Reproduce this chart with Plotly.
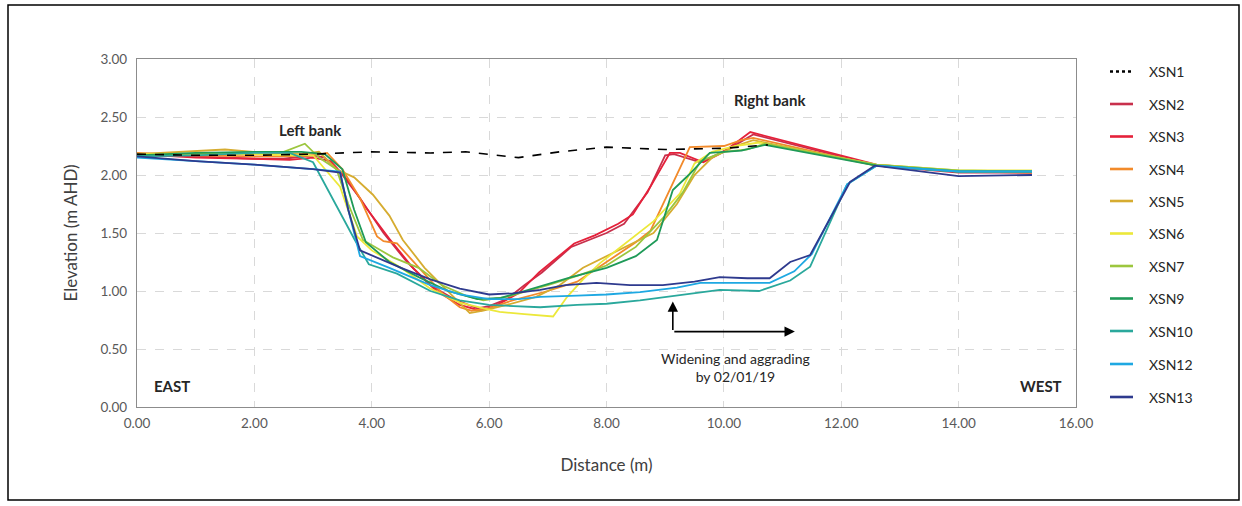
import plotly.graph_objects as go

# Cross-section survey profiles: distance across channel (m) vs elevation (m AHD)
names = ["XSN1", "XSN2", "XSN3", "XSN4", "XSN5", "XSN6", "XSN7", "XSN9", "XSN10", "XSN12", "XSN13"]
colors = ["#000000", "#c8304c", "#e5213a", "#f28a2a", "#d6ac30", "#ece83a", "#9cc63e",
          "#1e9a58", "#2aa89c", "#1ea8e2", "#2e3a8e"]

xsn1_x = [0, 1, 2, 3, 4, 5, 5.6, 6.5, 7.2, 8.0, 9.0, 10.0, 10.75]
xsn1_y = [2.18, 2.17, 2.17, 2.18, 2.20, 2.19, 2.20, 2.15, 2.20, 2.24, 2.22, 2.23, 2.26]

xsn2_x = [0, 1, 2, 2.5, 3.0, 3.2, 3.5, 3.8, 4.2, 4.6, 5.0, 5.4, 5.8, 6.0, 6.3, 6.6, 6.9,
          7.4, 8.0, 8.3, 8.7, 9.0, 9.15, 9.6, 9.9, 10.2, 10.5, 12.6, 14.0, 15.25]
xsn2_y = [2.17, 2.16, 2.14, 2.14, 2.17, 2.15, 2.00, 1.80, 1.50, 1.25, 1.05, 0.93, 0.85, 0.87,
          0.93, 1.05, 1.16, 1.38, 1.50, 1.58, 1.85, 2.17, 2.18, 2.11, 2.18, 2.26, 2.35, 2.08,
          2.02, 2.02]

xsn3_x = [0, 1, 2, 2.6, 3.0, 3.3, 3.6, 3.9, 4.3, 4.7, 5.1, 5.5, 5.85, 6.1, 6.5, 6.85,
          7.45, 7.8, 8.2, 8.45, 8.75, 9.08, 9.25, 9.65, 10.0, 10.45, 12.6, 14.0, 15.25]
xsn3_y = [2.18, 2.15, 2.14, 2.13, 2.15, 2.12, 1.95, 1.72, 1.45, 1.20, 1.00, 0.88, 0.83, 0.87,
          0.98, 1.16, 1.41, 1.48, 1.58, 1.66, 1.90, 2.19, 2.19, 2.11, 2.20, 2.37, 2.09,
          2.03, 2.02]

xsn4_x = [0, 1, 2, 2.5, 3.0, 3.24, 3.5, 3.8, 4.09, 4.2, 4.43, 4.8, 5.2, 5.5, 5.7, 6.0,
          6.4, 7.0, 7.5, 8.0, 8.5, 8.75, 9.1, 9.42, 10.0, 10.3, 10.5, 12.6, 14.0, 15.25]
xsn4_y = [2.19, 2.17, 2.16, 2.16, 2.17, 2.19, 2.05, 1.80, 1.47, 1.43, 1.41, 1.20, 0.98,
          0.86, 0.83, 0.85, 0.92, 1.00, 1.08, 1.25, 1.42, 1.52, 1.90, 2.24, 2.25, 2.30,
          2.32, 2.08, 2.03, 2.02]

xsn5_x = [0, 0.8, 1.5, 2.2, 2.8, 3.1, 3.4, 3.7, 4.02, 4.3, 4.53, 4.9, 5.2, 5.5, 5.67, 5.9,
          6.3, 6.8, 7.2, 7.6, 8.0, 8.4, 8.8, 9.2, 9.5, 9.8, 10.2, 10.5, 12.6, 14.0, 15.25]
xsn5_y = [2.18, 2.20, 2.22, 2.19, 2.18, 2.20, 2.05, 1.98, 1.83, 1.65, 1.44, 1.20, 1.05,
          0.90, 0.81, 0.83, 0.88, 0.95, 1.05, 1.20, 1.30, 1.40, 1.50, 1.75, 2.00, 2.15,
          2.25, 2.30, 2.08, 2.03, 2.03]

xsn6_x = [0, 1, 2, 2.6, 3.0, 3.46, 3.75, 4.0, 4.5, 5.0, 5.5, 6.0, 6.18, 6.6, 7.09, 7.33,
          7.6, 7.89, 8.4, 8.8, 9.25, 9.5, 9.8, 10.2, 10.6, 12.6, 14.0, 15.25]
xsn6_y = [2.18, 2.18, 2.18, 2.17, 2.17, 1.90, 1.47, 1.35, 1.20, 1.02, 0.90, 0.84, 0.82,
          0.80, 0.78, 0.95, 1.10, 1.24, 1.44, 1.60, 1.84, 2.10, 2.20, 2.25, 2.28, 2.09,
          2.04, 2.04]

xsn7_x = [0, 1, 2, 2.5, 2.86, 3.1, 3.4, 3.6, 3.85, 4.36, 4.8, 5.2, 5.6, 5.9, 6.3, 7.0,
          7.5, 8.0, 8.5, 9.0, 9.3, 9.6, 10.0, 10.4, 10.7, 12.6, 14.0, 15.25]
xsn7_y = [2.17, 2.18, 2.19, 2.20, 2.27, 2.15, 2.05, 1.75, 1.44, 1.29, 1.20, 1.05, 0.96,
          0.92, 0.95, 1.05, 1.13, 1.22, 1.38, 1.65, 1.85, 2.12, 2.20, 2.22, 2.27, 2.09,
          2.04, 2.03]

xsn9_x = [0, 1, 2, 2.8, 3.2, 3.5, 3.7, 3.9, 4.3, 4.8, 5.3, 5.8, 6.2, 6.8, 7.4, 8.0, 8.5,
          8.86, 9.13, 9.4, 9.76, 10.0, 10.3, 10.7, 12.6, 14.0, 15.25]
xsn9_y = [2.17, 2.19, 2.20, 2.20, 2.18, 2.05, 1.70, 1.42, 1.25, 1.12, 1.00, 0.93, 0.94,
          1.03, 1.12, 1.20, 1.30, 1.44, 1.87, 2.00, 2.19, 2.20, 2.21, 2.26, 2.08, 2.03, 2.03]

xsn10_x = [0, 1, 2, 2.6, 3.0, 3.45, 3.7, 3.95, 4.43, 5.0, 5.5, 6.0, 6.5, 6.87, 7.5, 8.0,
           8.57, 9.2, 9.93, 10.6, 11.13, 11.47, 12.1, 12.6, 14.0, 15.25]
xsn10_y = [2.16, 2.17, 2.19, 2.19, 2.11, 1.68, 1.45, 1.23, 1.15, 1.00, 0.92, 0.88, 0.87,
           0.86, 0.88, 0.89, 0.92, 0.96, 1.01, 1.00, 1.09, 1.21, 1.92, 2.08, 2.03, 2.03]

xsn12_x = [0, 1, 2, 3.0, 3.46, 3.6, 3.8, 4.3, 5.0, 5.5, 6.0, 6.5, 6.87, 7.5, 8.0, 8.57,
           9.2, 9.6, 10.2, 10.78, 11.2, 11.4, 11.5, 12.1, 12.6, 14.0, 15.25]
xsn12_y = [2.15, 2.12, 2.09, 2.05, 2.03, 1.70, 1.30, 1.20, 1.05, 0.97, 0.93, 0.93, 0.95,
           0.96, 0.97, 0.99, 1.03, 1.07, 1.07, 1.07, 1.17, 1.27, 1.32, 1.92, 2.08, 2.03,
           2.03]

xsn13_x = [0, 1, 2, 3.0, 3.46, 3.6, 3.8, 4.5, 5.0, 5.5, 6.0, 6.4, 6.87, 7.3, 7.83, 8.4,
           8.96, 9.5, 9.93, 10.4, 10.78, 11.13, 11.47, 12.15, 12.57, 14.0, 15.25]
xsn13_y = [2.16, 2.12, 2.09, 2.05, 2.02, 1.70, 1.35, 1.20, 1.10, 1.02, 0.97, 0.98, 1.01,
           1.05, 1.07, 1.05, 1.05, 1.08, 1.12, 1.11, 1.11, 1.25, 1.31, 1.94, 2.08, 1.99,
           2.00]

xs = [xsn1_x, xsn2_x, xsn3_x, xsn4_x, xsn5_x, xsn6_x, xsn7_x, xsn9_x, xsn10_x, xsn12_x, xsn13_x]
ys = [xsn1_y, xsn2_y, xsn3_y, xsn4_y, xsn5_y, xsn6_y, xsn7_y, xsn9_y, xsn10_y, xsn12_y, xsn13_y]

x_ticks = [0, 2, 4, 6, 8, 10, 12, 14, 16]
y_ticks = [0, 0.5, 1.0, 1.5, 2.0, 2.5, 3.0]

FONT = "Lato"
W, H = 1242, 506
L, R, T, B = 137, 166, 59, 99
PW, PH = W - L - R, H - T - B


def px_x(p):
    return (p - L) / PW


def px_y(p):
    return (H - B - p) / PH


fig = go.Figure()

# Draw the later surveys first so the reference profile sits on top
order = list(range(1, len(names))) + [0]
for i in order:
    fig.add_trace(go.Scatter(
        x=xs[i], y=ys[i], mode="lines", name=names[i],
        line=dict(color=colors[i], width=1.8 if i else 1.6,
                  dash="dash" if i == 0 else "solid"),
        showlegend=False, hoverinfo="skip"))

grid = dict(showgrid=True, gridcolor="#d9d9d9", griddash="dash", gridwidth=1,
            showline=True, linecolor="#8c8c8c", linewidth=1.2, mirror=True,
            ticks="", zeroline=False, tickformat=".2f")

fig.update_xaxes(range=[0, 16], tickvals=x_ticks, ticklabelstandoff=4, **grid,
                 tickfont=dict(family=FONT, size=13.5, color="#595959"),
                 title=dict(text="Distance (m)", standoff=28,
                            font=dict(family=FONT, size=17, color="#404040")))
fig.update_yaxes(range=[0, 3], tickvals=y_ticks, ticklabelstandoff=6, **grid,
                 tickfont=dict(family=FONT, size=13.5, color="#595959"),
                 title=dict(text="Elevation (m AHD)", standoff=18,
                            font=dict(family=FONT, size=17, color="#404040")))

ann = []
bold = dict(family=FONT, size=15, color="#262626")
ann.append(dict(x=2.95, y=2.39, text="<b>Left bank</b>", showarrow=False, font=bold))
ann.append(dict(x=10.78, y=2.65, text="<b>Right bank</b>", showarrow=False, font=bold))
ann.append(dict(x=0.25, y=0.18, text="<b>EAST</b>", showarrow=False, font=bold,
                xanchor="left"))
ann.append(dict(x=15.8, y=0.18, text="<b>WEST</b>", showarrow=False, font=bold,
                xanchor="right"))
ann.append(dict(x=10.2, y=0.34, text="Widening and aggrading<br>by 02/01/19",
                showarrow=False, font=dict(family=FONT, size=14, color="#262626")))

# Direction arrows
ann.append(dict(x=9.13, y=0.91, ax=9.13, ay=0.65, xref="x", yref="y", axref="x",
                ayref="y", text="", showarrow=True, arrowhead=2, arrowsize=1.3,
                arrowwidth=1.6, arrowcolor="#000000"))
ann.append(dict(x=11.21, y=0.65, ax=9.13, ay=0.65, xref="x", yref="y", axref="x",
                ayref="y", text="", showarrow=True, arrowhead=2, arrowsize=1.3,
                arrowwidth=1.6, arrowcolor="#000000"))

shapes = []
# Legend entries
legend_y = [71.5, 104, 136.5, 169, 201, 233.5, 266, 298.5, 331, 364, 397]
for i, nm in enumerate(names):
    yy = px_y(legend_y[i])
    shapes.append(dict(type="line", xref="paper", yref="paper",
                       x0=px_x(1110), x1=px_x(1133), y0=yy, y1=yy,
                       line=dict(color=colors[i], width=2.6 if i else 2.4,
                                 dash="dot" if i == 0 else "solid")))
    ann.append(dict(x=px_x(1147), y=yy, xref="paper", yref="paper", text=nm,
                    showarrow=False, xanchor="left", yanchor="middle",
                    font=dict(family=FONT, size=14, color="#262626")))

# Outer frame
shapes.append(dict(type="rect", xref="paper", yref="paper",
                   x0=px_x(8), x1=px_x(1239), y0=px_y(500), y1=px_y(5),
                   line=dict(color="#000000", width=1.5)))

fig.update_layout(width=W, height=H, margin=dict(l=L, r=R, t=T, b=B),
                  plot_bgcolor="white", paper_bgcolor="white",
                  annotations=ann, shapes=shapes, showlegend=False,
                  font=dict(family=FONT))

fig.write_html("out.html")
